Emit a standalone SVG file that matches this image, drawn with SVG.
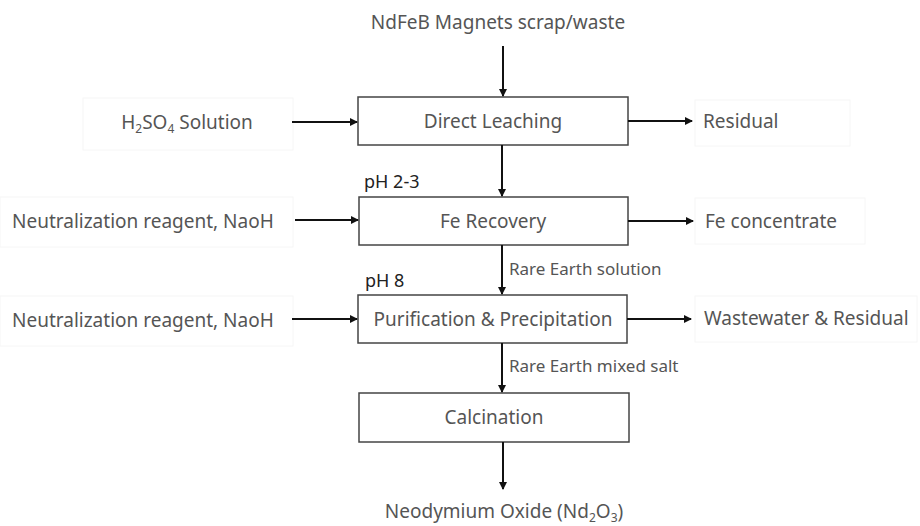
<svg xmlns="http://www.w3.org/2000/svg" width="920" height="526" viewBox="0 0 920 526">
<style>
.t{font-family:"Noto Sans","Open Sans","DejaVu Sans",sans-serif;font-size:19px;fill:#555}
.s{font-family:"Noto Sans","Open Sans","DejaVu Sans",sans-serif;font-size:17px;fill:#555}
.ph{font-family:"Noto Sans","DejaVu Sans",sans-serif;font-size:18px;fill:#222}
.box{fill:#fff;stroke:#444;stroke-width:1.5}
.fb{fill:#fff;stroke:#f6f6f6;stroke-width:1}
.ln{stroke:#111;stroke-width:2;fill:none;marker-end:url(#ah)}
</style>
<defs>
<marker id="ah" viewBox="0 0 8 8" refX="7" refY="4" markerWidth="4" markerHeight="4" orient="auto" markerUnits="strokeWidth">
<path d="M0,0 L8,4 L0,8 z" fill="#111"/>
</marker>
</defs>
<rect width="920" height="526" fill="#fff"/>
<g id="input-top"><text class="t" x="498" y="29" text-anchor="middle">NdFeB Magnets scrap/waste</text></g>
<g id="h2so4"><rect class="fb" x="83" y="98" width="210" height="52"/><text class="t" x="187" y="129" text-anchor="middle">H<tspan font-size="12" dy="4">2</tspan><tspan dy="-4">SO</tspan><tspan font-size="12" dy="4">4</tspan><tspan dy="-4"> Solution</tspan></text></g>
<g id="leach"><rect class="box" x="358" y="97" width="270" height="48"/><text class="t" x="493" y="128" text-anchor="middle">Direct Leaching</text></g>
<g id="residual"><rect class="fb" x="695" y="100" width="155" height="46"/><text class="t" x="703" y="128">Residual</text></g>
<g id="ph1"><text class="ph" x="364" y="188">pH 2-3</text></g>
<g id="naoh1"><rect class="fb" x="0" y="197" width="293" height="50"/><text class="t" x="12" y="228">Neutralization reagent, NaoH</text></g>
<g id="fe"><rect class="box" x="359" y="197" width="269" height="48"/><text class="t" x="493" y="228" text-anchor="middle">Fe Recovery</text></g>
<g id="fecon"><rect class="fb" x="695" y="198" width="170" height="46"/><text class="t" x="705" y="228">Fe concentrate</text></g>
<g id="ph2"><text class="ph" x="365" y="287">pH 8</text></g>
<g id="naoh2"><rect class="fb" x="0" y="296" width="293" height="50"/><text class="t" x="12" y="327">Neutralization reagent, NaoH</text></g>
<g id="purif"><rect class="box" x="358" y="295" width="269" height="48"/><text class="t" x="493" y="326" text-anchor="middle">Purification &amp; Precipitation</text></g>
<g id="waste"><rect class="fb" x="695" y="296" width="222" height="46"/><text class="t" x="704" y="325">Wastewater &amp; Residual</text></g>
<g id="calc"><rect class="box" x="359" y="393" width="270" height="49"/><text class="t" x="494" y="424" text-anchor="middle">Calcination</text></g>
<g id="output"><text class="t" x="504" y="518" text-anchor="middle">Neodymium Oxide (Nd<tspan font-size="12" dy="4">2</tspan><tspan dy="-4">O</tspan><tspan font-size="12" dy="4">3</tspan><tspan dy="-4">)</tspan></text></g>
<g id="connectors">
<line class="ln" x1="503" y1="46" x2="503" y2="96"/>
<line class="ln" x1="292" y1="122" x2="357" y2="122"/>
<line class="ln" x1="628" y1="121" x2="692" y2="121"/>
<line class="ln" x1="502" y1="145" x2="502" y2="196"/>
<line class="ln" x1="295" y1="220" x2="358" y2="220"/>
<line class="ln" x1="628" y1="221" x2="693" y2="221"/>
<line class="ln" x1="502" y1="245" x2="502" y2="294"/>
<line class="ln" x1="292" y1="319" x2="357" y2="319"/>
<line class="ln" x1="627" y1="319" x2="691" y2="319"/>
<line class="ln" x1="502" y1="343" x2="502" y2="392"/>
<line class="ln" x1="503" y1="442" x2="503" y2="489"/>
<text class="s" x="509" y="275">Rare Earth solution</text>
<text class="s" x="509" y="372">Rare Earth mixed salt</text>
</g>
</svg>
